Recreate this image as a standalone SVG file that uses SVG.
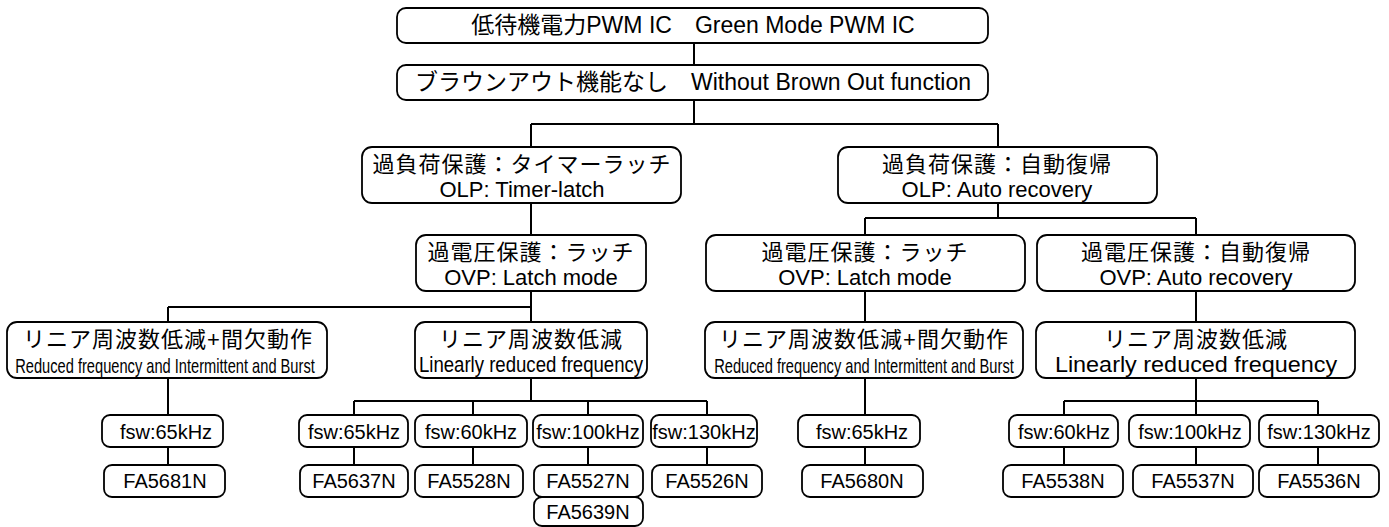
<svg xmlns="http://www.w3.org/2000/svg" width="1389" height="527" viewBox="0 0 1389 527">
<style>
.b{fill:#fff;stroke:#000;stroke-width:1.8}
.c{fill:none;stroke:#000;stroke-width:2}
text{font-family:"Liberation Sans","Noto Sans CJK JP",sans-serif;fill:#000;text-anchor:middle}
.t{font-size:23px}
.j{font-size:22px;letter-spacing:1px}
.e{font-size:22px}
.s{font-size:20px}
.n{font-size:20px}
</style>
<rect width="1389" height="527" fill="#fff"/>
<g id="connectors">
<path class="c" d="M694 43V65M694 100V124M531 124H998M531 124V147M998 124V147M531 203V235M998 203V218M865 218H1196M865 218V235M1196 218V235M531 291V322M168 307H531M168 307V322M865 291V322M1196 291V322M168 378V415M531 378V401M354 401H707M354 401V415M473 401V415M588 401V415M707 401V415M865 378V415M1196 378V401M1064 401H1318M1064 401V415M1196 401V415M1318 401V415M168 447V465M354 447V465M473 447V465M588 447V465M707 447V465M865 447V465M1064 447V465M1196 447V465M1318 447V465"/>
</g>
<g id="n-top"><rect class="b" x="397" y="8" width="591" height="35" rx="9"/><text class="t" x="693" y="33">低待機電力PWM IC　Green Mode PWM IC</text></g>
<g id="n-brown"><rect class="b" x="397" y="65" width="591" height="35" rx="9"/><text class="t" x="693" y="90">ブラウンアウト機能なし　Without Brown Out function</text></g>
<g id="n-olp-latch"><rect class="b" x="362" y="147" width="319" height="56" rx="10"/><text class="j" x="522" y="172">過負荷保護：タイマーラッチ</text><text class="e" x="522" y="197">OLP: Timer-latch</text></g>
<g id="n-olp-auto"><rect class="b" x="838" y="147" width="319" height="56" rx="10"/><text class="j" x="997" y="172">過負荷保護：自動復帰</text><text class="e" x="997" y="197">OLP: Auto recovery</text></g>
<g id="n-ovp-latch-l"><rect class="b" x="416" y="235" width="230" height="56" rx="10"/><text class="j" x="531" y="260">過電圧保護：ラッチ</text><text class="e" x="531" y="285">OVP: Latch mode</text></g>
<g id="n-ovp-latch-r"><rect class="b" x="706" y="235" width="319" height="56" rx="10"/><text class="j" x="865" y="260">過電圧保護：ラッチ</text><text class="e" x="865" y="285">OVP: Latch mode</text></g>
<g id="n-ovp-auto"><rect class="b" x="1037" y="235" width="318" height="56" rx="10"/><text class="j" x="1196" y="260">過電圧保護：自動復帰</text><text class="e" x="1196" y="285">OVP: Auto recovery</text></g>
<g id="n-lin-burst-l"><rect class="b" x="7" y="322" width="320" height="56" rx="10"/><text class="j" x="168" y="347">リニア周波数低減+間欠動作</text><text class="n" transform="translate(165 373) scale(0.733 1)">Reduced frequency and Intermittent and Burst</text></g>
<g id="n-lin-l"><rect class="b" x="415" y="322" width="232" height="56" rx="10"/><text class="j" x="531" y="347">リニア周波数低減</text><text class="e" transform="translate(531 372) scale(0.845 1)">Linearly reduced frequency</text></g>
<g id="n-lin-burst-r"><rect class="b" x="705" y="322" width="318" height="56" rx="10"/><text class="j" x="864" y="347">リニア周波数低減+間欠動作</text><text class="n" transform="translate(864 373) scale(0.733 1)">Reduced frequency and Intermittent and Burst</text></g>
<g id="n-lin-r"><rect class="b" x="1036" y="322" width="319" height="56" rx="10"/><text class="j" x="1196" y="347">リニア周波数低減</text><text class="e" transform="translate(1196 372) scale(1.064 1)">Linearly reduced frequency</text></g>
<g id="n-f1"><rect class="b" x="102" y="415" width="121" height="32" rx="8"/><text class="s" x="166" y="439">fsw:65kHz</text></g>
<g id="n-f2"><rect class="b" x="299" y="415" width="109" height="32" rx="8"/><text class="s" x="354" y="439">fsw:65kHz</text></g>
<g id="n-f3"><rect class="b" x="415" y="415" width="112" height="32" rx="8"/><text class="s" x="471" y="439">fsw:60kHz</text></g>
<g id="n-f4"><rect class="b" x="533" y="415" width="110" height="32" rx="8"/><text class="s" x="588" y="439">fsw:100kHz</text></g>
<g id="n-f5"><rect class="b" x="651" y="415" width="106" height="32" rx="8"/><text class="s" x="704" y="439">fsw:130kHz</text></g>
<g id="n-f6"><rect class="b" x="798" y="415" width="122" height="32" rx="8"/><text class="s" x="862" y="439">fsw:65kHz</text></g>
<g id="n-f7"><rect class="b" x="1009" y="415" width="109" height="32" rx="8"/><text class="s" x="1064" y="439">fsw:60kHz</text></g>
<g id="n-f8"><rect class="b" x="1129" y="415" width="121" height="32" rx="8"/><text class="s" x="1190" y="439">fsw:100kHz</text></g>
<g id="n-f9"><rect class="b" x="1259" y="415" width="120" height="32" rx="8"/><text class="s" x="1319" y="439">fsw:130kHz</text></g>
<g id="n-p1"><rect class="b" x="104" y="465" width="121" height="32" rx="8"/><text class="s" x="165" y="488">FA5681N</text></g>
<g id="n-p2"><rect class="b" x="300" y="465" width="108" height="32" rx="8"/><text class="s" x="354" y="488">FA5637N</text></g>
<g id="n-p3"><rect class="b" x="415" y="465" width="108" height="32" rx="8"/><text class="s" x="469" y="488">FA5528N</text></g>
<g id="n-p4"><rect class="b" x="534" y="465" width="109" height="32" rx="8"/><text class="s" x="588" y="488">FA5527N</text></g>
<g id="n-p5"><rect class="b" x="534" y="497" width="109" height="29" rx="8"/><text class="s" x="588" y="519">FA5639N</text></g>
<g id="n-p6"><rect class="b" x="652" y="465" width="110" height="32" rx="8"/><text class="s" x="707" y="488">FA5526N</text></g>
<g id="n-p7"><rect class="b" x="802" y="465" width="121" height="32" rx="8"/><text class="s" x="862" y="488">FA5680N</text></g>
<g id="n-p8"><rect class="b" x="1003" y="465" width="120" height="32" rx="8"/><text class="s" x="1063" y="488">FA5538N</text></g>
<g id="n-p9"><rect class="b" x="1133" y="465" width="120" height="32" rx="8"/><text class="s" x="1193" y="488">FA5537N</text></g>
<g id="n-p10"><rect class="b" x="1259" y="465" width="120" height="32" rx="8"/><text class="s" x="1319" y="488">FA5536N</text></g>
</svg>
